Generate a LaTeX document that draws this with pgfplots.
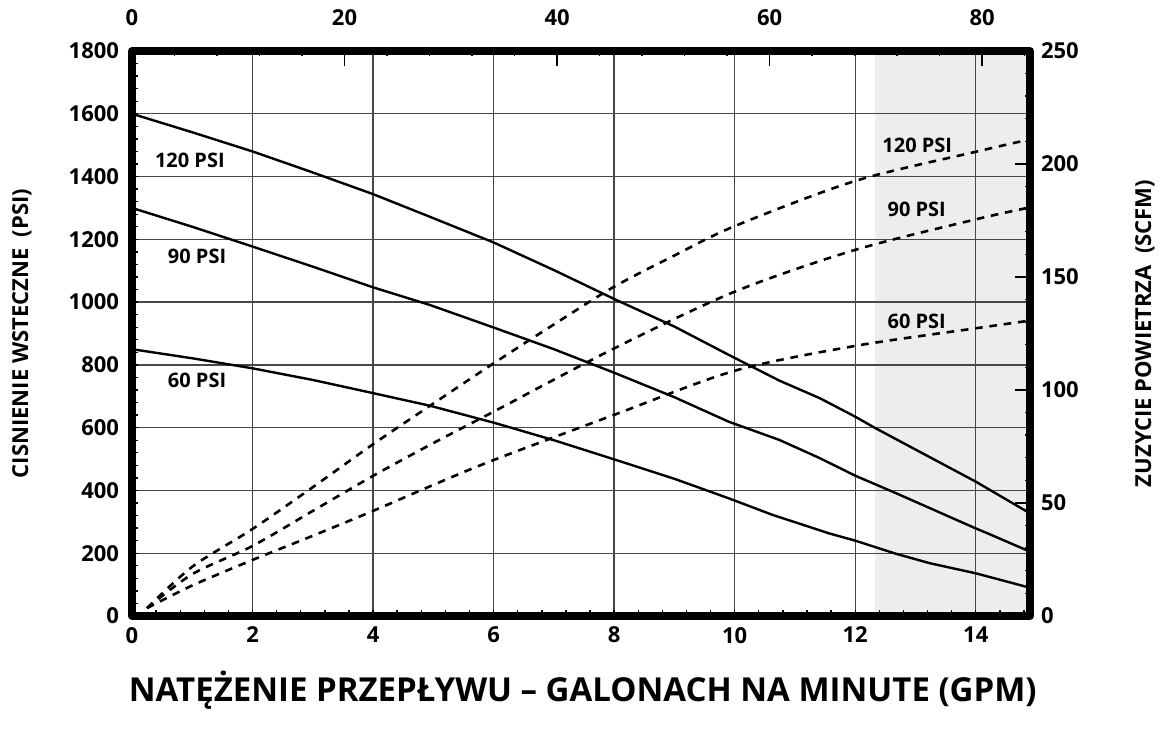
\documentclass[border=0pt]{standalone}
\usepackage{pgfplots}
\pgfplotsset{compat=1.18}
\usepackage{fontspec}
\setmainfont{Open Sans}

\pgfplotsset{
  base/.style={
    scale only axis, width=449pt, height=282.5pt,
    xmin=0, xmax=14.9, ymin=0, ymax=1800,
  },
}
\tikzset{lbl/.style={font=\fontsize{10}{12}\selectfont\bfseries, anchor=center}}

\begin{document}
\begin{tikzpicture}
\path[use as bounding box] (-66pt,-57.5pt) rectangle (518.5pt,308pt);

% shaded band (behind the grid)
\begin{axis}[base, hide axis]
\addplot[fill=black!7, draw=none] coordinates {(12.32,1800) (14.9,1800)} \closedcycle;
\end{axis}

% main axis: GPM / PSI
\begin{axis}[base,
  xtick={0,2,...,14}, ytick={0,200,...,1800},
  minor xtick={0,0.4,...,14.8}, minor ytick={0,40,...,1800},
  tick pos=left, tick align=inside,
  major tick length=0pt, minor tick length=3pt,
  every tick/.style={black, line width=0.7pt},
  xmajorgrids, ymajorgrids,
  grid style={line width=0.7pt, color=black!72},
  axis line style={line width=4pt, line join=round},
  ticklabel style={font=\fontsize{11}{13}\selectfont\bfseries},
  /pgf/number format/assume math mode=true,
  /pgf/number format/1000 sep={},
  yticklabel style={xshift=-3pt},
  xticklabel style={yshift=-2pt},
  xlabel={NATĘŻENIE PRZEPŁYWU – GALONACH NA MINUTE (GPM)},
  xlabel style={font=\fontsize{16.5}{19}\selectfont\bfseries, at={(axis description cs:0.502,-0.131)}, anchor=center},
  ylabel={CISNIENIE WSTECZNE\ \ (PSI)},
  ylabel style={font=\fontsize{11}{13}\selectfont\bfseries, at={(axis description cs:-0.1225,0.5)}, anchor=center},
]
% 120 PSI
\addplot[black, line width=1.2pt] coordinates {
(0,1600) (1,1541) (2,1480) (3,1413) (4,1344) (4.94,1272) (6,1190) (7,1102)
(8,1010) (9,922) (9.9,832) (10.74,750) (11.41,694) (12,635) (12.32,600)
(13.12,518) (14,428) (14.9,327)};
% 90 PSI
\addplot[black, line width=1.2pt] coordinates {
(0,1300) (1,1240) (2,1177) (3,1113) (4,1047) (4.94,991) (6,919) (7,850)
(8,775) (9,697) (9.9,619) (10.74,561) (11.41,503) (12,447) (12.68,391) (14,279)
(14.2,263) (14.9,205)};
% 60 PSI
\addplot[black, line width=1.2pt] coordinates {
(0,850) (1,821) (2,789) (3,752) (4,710) (4.94,670) (6,616) (7,560)
(8,499) (9,437) (9.9,375) (10.63,322) (11.57,263) (12,240) (12.68,198) (13.24,168)
(14,136) (14.9,90)};

\node[lbl] at (axis cs:0.96,1453) {120 PSI};
\node[lbl] at (axis cs:1.08,1147) {90 PSI};
\node[lbl] at (axis cs:1.08,752) {60 PSI};
\node[lbl] at (axis cs:13.03,1498) {120 PSI};
\node[lbl] at (axis cs:13.02,1294) {90 PSI};
\node[lbl] at (axis cs:13.02,940) {60 PSI};
\end{axis}

% air consumption curves (GPM / SCFM)
\begin{axis}[base, ymax=250, hide axis]
\addplot[black, line width=1.3pt, dash pattern=on 3.8pt off 3.4pt, smooth] coordinates {
(0.25,3.5) (1,21.8) (2,38.5) (3,57) (4,76) (5,94) (6,111.8) (7,129) (8,145.7)
(9,159.5) (10,172.5) (12,192.5) (14,205.4) (14.9,210.9)};
\addplot[black, line width=1.3pt, dash pattern=on 3.8pt off 3.4pt, smooth] coordinates {
(0.25,3.5) (1,18.5) (2,31) (3,46.5) (4,62) (5,76.5) (6,90.4) (8,118.4)
(10,143.5) (12,162) (14,175.5) (14.9,180.8)};
\addplot[black, line width=1.3pt, dash pattern=on 3.8pt off 3.4pt, smooth] coordinates {
(0.25,3.5) (1,13.5) (2,24.8) (3,35.5) (4,46.5) (5,58) (6,69) (8,89)
(10,108.5) (12,119.5) (14,127.3) (14.9,130.7)};
\end{axis}

% secondary scales: top and right
\begin{axis}[
  scale only axis, width=449pt, height=282.5pt,
  xmin=0, xmax=84.5, ymin=0, ymax=250,
  axis line style={draw=none},
  tick pos=right, tick align=inside,
  xticklabel pos=right, yticklabel pos=right,
  xtick={0,20,...,80}, minor xtick={0,4,...,84},
  ytick={0,50,...,250}, minor ytick={0,10,...,250},
  major tick length=7.5pt, minor tick length=2.5pt,
  every tick/.style={black, line width=0.7pt},
  ticklabel style={font=\fontsize{11}{13}\selectfont\bfseries},
  /pgf/number format/assume math mode=true,
  xticklabel style={yshift=9pt},
  yticklabel style={xshift=2pt},
  ylabel={ZUZYCIE POWIETRZA\ \ (SCFM)},
  ylabel style={font=\fontsize{11}{13}\selectfont\bfseries, at={(axis description cs:1.128,0.5)}, anchor=center},
]
\end{axis}
\end{tikzpicture}
\end{document}
